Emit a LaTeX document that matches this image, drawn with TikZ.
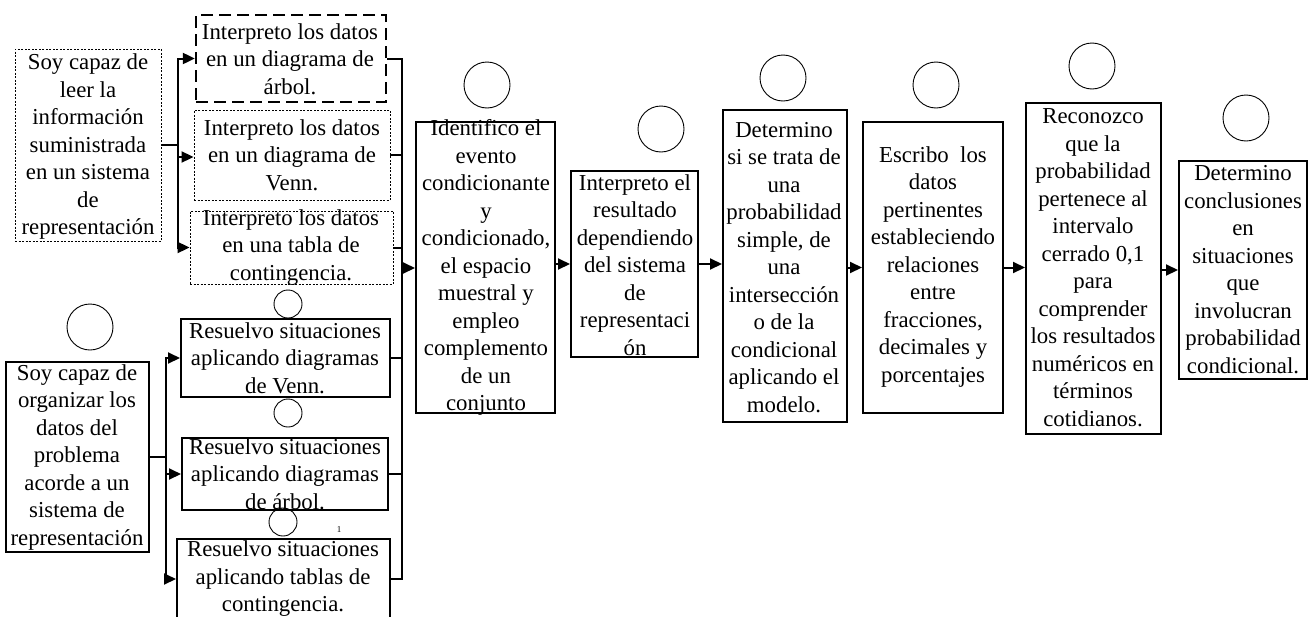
\documentclass[tikz,border=0pt]{standalone}
\usepackage{fontspec}
\setmainfont{Liberation Serif}
\usetikzlibrary{arrows.meta}
\begin{document}
\begin{tikzpicture}[x=1pt,y=-1pt,
  font=\fontsize{22.8}{27.5}\selectfont,
  boxs/.style={draw, line width=2pt, inner sep=0pt},
  dotbox/.style={draw, line width=0.9pt, dash pattern=on 2pt off 1.5pt, inner sep=0pt},
  dashbox/.style={draw, line width=2.3pt, dash pattern=on 12pt off 6pt, inner sep=0pt},
  txt/.style={align=center, inner sep=0pt},
  circ/.style={draw, circle, line width=0.9pt, minimum size=46pt, inner sep=0pt},
  scirc/.style={draw, circle, line width=0.9pt, minimum size=28pt, inner sep=0pt},
  conn/.style={line width=2pt},
  arr/.style={line width=2pt, -{Triangle[length=12pt,width=11pt]}}
]
\useasboundingbox (0,0) rectangle (1316,616);

% boxes
\node[dotbox, minimum width=146pt, minimum height=192pt] (A) at (88,145) {};
\node[dashbox, minimum width=190pt, minimum height=87pt] (B1) at (291,58.5) {};
\node[dotbox, minimum width=196pt, minimum height=90pt] (B2) at (292,155) {};
\node[dotbox, minimum width=203pt, minimum height=73pt] (B3) at (291.5,247.5) {};
\node[draw, line width=1.4pt, inner sep=0pt, minimum width=143pt, minimum height=190pt] (C) at (77.5,457) {};
\node[boxs, minimum width=209pt, minimum height=78pt] (D1) at (285.5,358) {};
\node[boxs, minimum width=206pt, minimum height=72pt] (D2) at (285,474) {};
\node[boxs, minimum width=213pt, minimum height=80pt] (D3) at (283.5,579) {};
\node[boxs, minimum width=139pt, minimum height=291pt] (E) at (485.5,267.5) {};
\node[boxs, minimum width=127pt, minimum height=186pt] (F) at (634.5,264) {};
\node[boxs, minimum width=124pt, minimum height=312pt] (G) at (785,266) {};
\node[boxs, minimum width=140pt, minimum height=291pt] (H) at (933,267.5) {};
\node[boxs, minimum width=135pt, minimum height=331pt] (I) at (1093.5,268.5) {};
\node[boxs, minimum width=128pt, minimum height=218pt] (J) at (1243,270) {};

% texts
\node[txt] (At) at (88,147) {Soy capaz de\\leer la\\información\\suministrada\\en un sistema\\de\\representación};
\node[txt] (B1t) at (290,59) {Interpreto los datos\\en un diagrama de\\árbol.};
\node[txt] (B2t) at (292,155) {Interpreto los datos\\en un diagrama de\\Venn.};
\node[txt] (B3t) at (291,247.5) {Interpreto los datos\\en una tabla de\\contingencia.};
\node[txt] (Ct) at (77,457.5) {Soy capaz de\\organizar los\\datos del\\problema\\acorde a un\\sistema de\\representación};
\node[txt] (D1t) at (285,358) {Resuelvo situaciones\\aplicando diagramas\\de Venn.};
\node[txt] (D2t) at (285,474) {Resuelvo situaciones\\aplicando diagramas\\de árbol.};
\node[txt] (D3t) at (283,579) {Resuelvo situaciones\\aplicando tablas de\\contingencia.};
\node[txt] (Et) at (486,267.5) {Identifico el\\evento\\condicionante\\y\\condicionado,\\el espacio\\muestral y\\empleo\\complemento\\de un\\conjunto};
\node[txt] (Ft) at (635,265) {Interpreto el\\resultado\\dependiendo\\del sistema\\de\\representaci\\ón};
\node[txt] (Gt) at (784,267.5) {Determino\\si se trata de\\una\\probabilidad\\simple, de\\una\\intersección\\o de la\\condicional\\aplicando el\\modelo.};
\node[txt] (Ht) at (933,267) {Escribo~ los\\datos\\pertinentes\\estableciendo\\relaciones\\entre\\fracciones,\\decimales y\\porcentajes};
\node[txt] (It) at (1093,267.5) {Reconozco\\que la\\probabilidad\\pertenece al\\intervalo\\cerrado 0,1\\para\\comprender\\los resultados\\numéricos en\\términos\\cotidianos.};
\node[txt] (Jt) at (1243,269.5) {Determino\\conclusiones\\en\\situaciones\\que\\involucran\\probabilidad\\condicional.};

% circles
\node[circ] (cC) at (90,327) {};
\node[scirc] (s1) at (288,304) {};
\node[scirc] (s2) at (288,413) {};
\node[scirc] (s3) at (283,522) {};
\node[circ] (cE) at (487,85) {};
\node[circ] (cF) at (661,129) {};
\node[circ] (cG) at (783,78) {};
\node[circ] (cH) at (936,85) {};
\node[circ] (cI) at (1092,66) {};
\node[circ] (cJ) at (1246,118) {};
\node[inner sep=0pt, font=\fontsize{9}{10}\selectfont] (mark) at (339,530) {1};

% left bus from A
\coordinate (ja) at (178,145);
\draw[conn] (A.east) -- (ja);
\draw[arr] (ja) |- (B1.west);
\draw[arr] (ja) |- ([yshift=-2pt]B2.west);
\draw[arr] (ja) |- (B3.west);

% left bus from C
\coordinate (jc) at (166,457);
\draw[conn] (C.east) -- (jc);
\draw[arr] (jc) |- (D1.west);
\draw[arr] (jc) |- (D2.west);
\draw[arr] (jc) |- (D3.west);

% right bus into E
\coordinate (rb) at (402,268);
\draw[conn] (B1.east) -| (rb);
\draw[conn] (B2.east) -| (rb);
\draw[conn] (B3.east) -| (rb);
\draw[conn] (D1.east) -| (rb);
\draw[conn] (D2.east) -| (rb);
\draw[conn] (D3.east) -| (rb);
\draw[arr] (rb) -- (E.west |- rb);

% main chain
\draw[arr] (E.east |- F.west) -- (F.west);
\draw[arr] (F.east) -- (G.west |- F.east);
\draw[arr] (G.east |- H.west) -- (H.west);
\draw[arr] (H.east) -- (I.west |- H.east);
\draw[arr] (I.east |- J.west) -- (J.west);
\end{tikzpicture}
\end{document}
